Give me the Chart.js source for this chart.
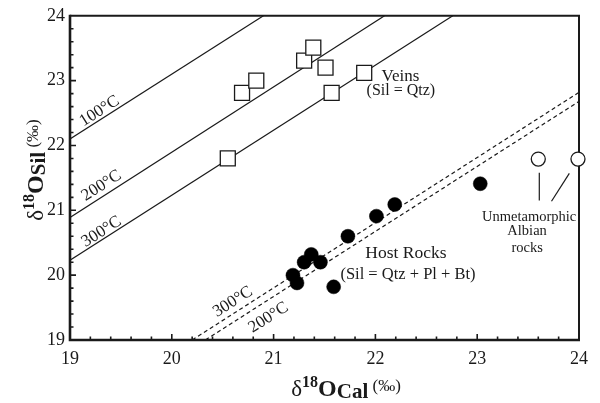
<!DOCTYPE html>
<html>
<head>
<meta charset="utf-8">
<script src="https://cdn.jsdelivr.net/npm/chart.js@4.4.0/dist/chart.umd.min.js"></script>
<style>
  body { margin: 0; background: #fff; }
</style>
</head>
<body>
<canvas id="chart" width="600" height="403"></canvas>
<script>
// --- data ---
const veinsX = [20.55, 20.69, 20.83, 21.30, 21.39, 21.51, 21.57, 21.89];
const veinsY = [21.80, 22.81, 23.00, 23.31, 23.51, 23.20, 22.81, 23.12];

const hostX = [21.19, 21.23, 21.30, 21.37, 21.46, 21.59, 21.73, 22.01, 22.19, 23.03];
const hostY = [20.00, 19.88, 20.20, 20.32, 20.20, 19.82, 20.60, 20.91, 21.09, 21.41];

const albianX = [23.60, 23.99];
const albianY = [21.79, 21.79];

// isotherm end points (calcite x, sillimanite y)
const iso100X = [19, 20.90];  const iso100Y = [22.10, 24];
const iso200X = [19, 22.09];  const iso200Y = [20.89, 24];
const iso300X = [19, 22.76];  const iso300Y = [20.23, 24];
const host300X = [20.20, 24]; const host300Y = [19, 22.82];
const host200X = [20.33, 24]; const host200Y = [19, 22.68];

// leader lines to the Albian label
const leader1X = [23.61, 23.61]; const leader1Y = [21.58, 21.15];
const leader2X = [23.905, 23.73]; const leader2Y = [21.57, 21.14];

const xTicks = [19, 20, 21, 22, 23, 24];
const yTicks = [19, 20, 21, 22, 23, 24];

const pts = (xs, ys) => xs.map((x, i) => ({ x: x, y: ys[i] }));

const SERIF = '"Liberation Serif", "Times New Roman", serif';
const INK = '#1a1a1a';

function lineSet(xs, ys, dashed) {
  return {
    data: pts(xs, ys),
    showLine: true,
    borderColor: INK,
    borderWidth: 1.2,
    borderDash: dashed ? [4, 3] : [],
    pointRadius: 0,
    order: 2
  };
}

// text placed in data coordinates
const notes = [
  { t: 'Veins', x: 22.06, y: 23.06, size: 17, align: 'left' },
  { t: '(Sil = Qtz)', x: 22.25, y: 22.85, size: 16, align: 'center' },
  { t: 'Host Rocks', x: 22.30, y: 20.34, size: 17.5, align: 'center' },
  { t: '(Sil = Qtz + Pl + Bt)', x: 22.32, y: 20.01, size: 16.5, align: 'center' },
  { t: 'Unmetamorphic', x: 23.51, y: 20.90, size: 14.5, align: 'center' },
  { t: 'Albian', x: 23.49, y: 20.68, size: 14.5, align: 'center' },
  { t: 'rocks', x: 23.49, y: 20.41, size: 14.5, align: 'center' }
];
const tempNotes = [
  { t: '100°C', x: 19.29, y: 22.53 },
  { t: '200°C', x: 19.31, y: 21.38 },
  { t: '300°C', x: 19.31, y: 20.67 },
  { t: '300°C', x: 20.60, y: 19.59 },
  { t: '200°C', x: 20.95, y: 19.345 }
];

function drawRuns(ctx, runs, cx, baseY) {
  let total = 0;
  runs.forEach(r => { ctx.font = r.font; total += ctx.measureText(r.text).width; });
  let x = cx - total / 2;
  ctx.textAlign = 'left';
  ctx.textBaseline = 'alphabetic';
  runs.forEach(r => {
    ctx.font = r.font;
    ctx.fillText(r.text, x, baseY + r.dy);
    x += ctx.measureText(r.text).width;
  });
}

const framePlugin = {
  id: 'frame',
  beforeDatasetsDraw(chart) {
    const { ctx, chartArea: a, scales } = chart;
    ctx.save();
    ctx.strokeStyle = INK;
    ctx.lineWidth = 2;
    ctx.beginPath();
    ctx.moveTo(a.left, a.top); ctx.lineTo(a.right, a.top); ctx.lineTo(a.right, a.bottom);
    ctx.stroke();
    ctx.lineWidth = 2.6;
    ctx.beginPath();
    ctx.moveTo(a.left, a.top - 1); ctx.lineTo(a.left, a.bottom); ctx.lineTo(a.right + 1, a.bottom);
    ctx.stroke();
    // inward ticks, minor every 0.2
    ctx.lineWidth = 1.6;
    for (let i = 1; i < 25; i++) {
      const v = 19 + i * 0.2;
      const len = i % 5 === 0 ? 6 : 3.5;
      const px = scales.x.getPixelForValue(v);
      const py = scales.y.getPixelForValue(v);
      ctx.beginPath();
      ctx.moveTo(px, a.bottom); ctx.lineTo(px, a.bottom - len);
      ctx.moveTo(a.left, py); ctx.lineTo(a.left + len, py);
      ctx.stroke();
    }
    ctx.restore();
  },
  afterDraw(chart) {
    const { ctx, scales } = chart;
    const xs = scales.x, ys = scales.y;
    ctx.save();
    ctx.fillStyle = INK;
    ctx.textBaseline = 'middle';
    notes.forEach(n => {
      ctx.font = n.size + 'px ' + SERIF;
      ctx.textAlign = n.align;
      ctx.fillText(n.t, xs.getPixelForValue(n.x), ys.getPixelForValue(n.y));
    });
    // rotated isotherm labels follow the slope-1 lines
    const ang = Math.atan2(ys.getPixelForValue(19) - ys.getPixelForValue(20),
                           xs.getPixelForValue(20) - xs.getPixelForValue(19));
    ctx.font = '17px ' + SERIF;
    ctx.textAlign = 'center';
    tempNotes.forEach(n => {
      ctx.save();
      ctx.translate(xs.getPixelForValue(n.x), ys.getPixelForValue(n.y));
      ctx.rotate(-ang);
      ctx.fillText(n.t, 0, 0);
      ctx.restore();
    });
    // axis titles
    const runs = sub => [
      { text: 'δ', font: '23px ' + SERIF, dy: 0 },
      { text: '18', font: 'bold 16px ' + SERIF, dy: -9 },
      { text: 'O', font: 'bold 24px ' + SERIF, dy: 0 },
      { text: sub, font: 'bold 21px ' + SERIF, dy: 2 },
      { text: ' (‰)', font: '17px ' + SERIF, dy: -5 }
    ];
    drawRuns(ctx, runs('Cal'), 346, 396);
    ctx.translate(43, 170);
    ctx.rotate(-Math.PI / 2);
    drawRuns(ctx, runs('Sil'), 0, 0);
    ctx.restore();
  }
};

new Chart(document.getElementById('chart'), {
  type: 'scatter',
  data: {
    datasets: [
      {
        data: pts(veinsX, veinsY),
        pointStyle: 'rect',
        pointRadius: 10.6,
        backgroundColor: '#fff',
        borderColor: INK,
        borderWidth: 1.3,
        clip: false,
        order: 0
      },
      {
        data: pts(hostX, hostY),
        pointStyle: 'circle',
        pointRadius: 7,
        backgroundColor: '#000',
        borderColor: '#000',
        borderWidth: 0.5,
        clip: false,
        order: 0
      },
      {
        data: pts(albianX, albianY),
        pointStyle: 'circle',
        pointRadius: 7,
        backgroundColor: '#fff',
        borderColor: INK,
        borderWidth: 1.3,
        clip: false,
        order: 0
      },
      lineSet(iso100X, iso100Y, false),
      lineSet(iso200X, iso200Y, false),
      lineSet(iso300X, iso300Y, false),
      lineSet(host300X, host300Y, true),
      lineSet(host200X, host200Y, true),
      lineSet(leader1X, leader1Y, false),
      lineSet(leader2X, leader2Y, false)
    ]
  },
  options: {
    responsive: false,
    animation: false,
    events: [],
    layout: { padding: { left: 0, top: 14, right: 21, bottom: 0 } },
    plugins: { legend: { display: false }, tooltip: { enabled: false } },
    scales: {
      x: {
        type: 'linear', min: 19, max: 24,
        afterFit: s => { s.height = 63; },
        afterBuildTicks: s => { s.ticks = xTicks.map(v => ({ value: v })); },
        grid: { display: false, drawTicks: false },
        border: { display: false },
        ticks: { padding: 8, color: INK, font: { family: SERIF, size: 18 } }
      },
      y: {
        type: 'linear', min: 19, max: 24,
        afterFit: s => { s.width = 70; },
        afterBuildTicks: s => { s.ticks = yTicks.map(v => ({ value: v })); },
        grid: { display: false, drawTicks: false },
        border: { display: false },
        ticks: { padding: 5, color: INK, font: { family: SERIF, size: 18 } }
      }
    }
  },
  plugins: [framePlugin]
});
</script>
</body>
</html>
